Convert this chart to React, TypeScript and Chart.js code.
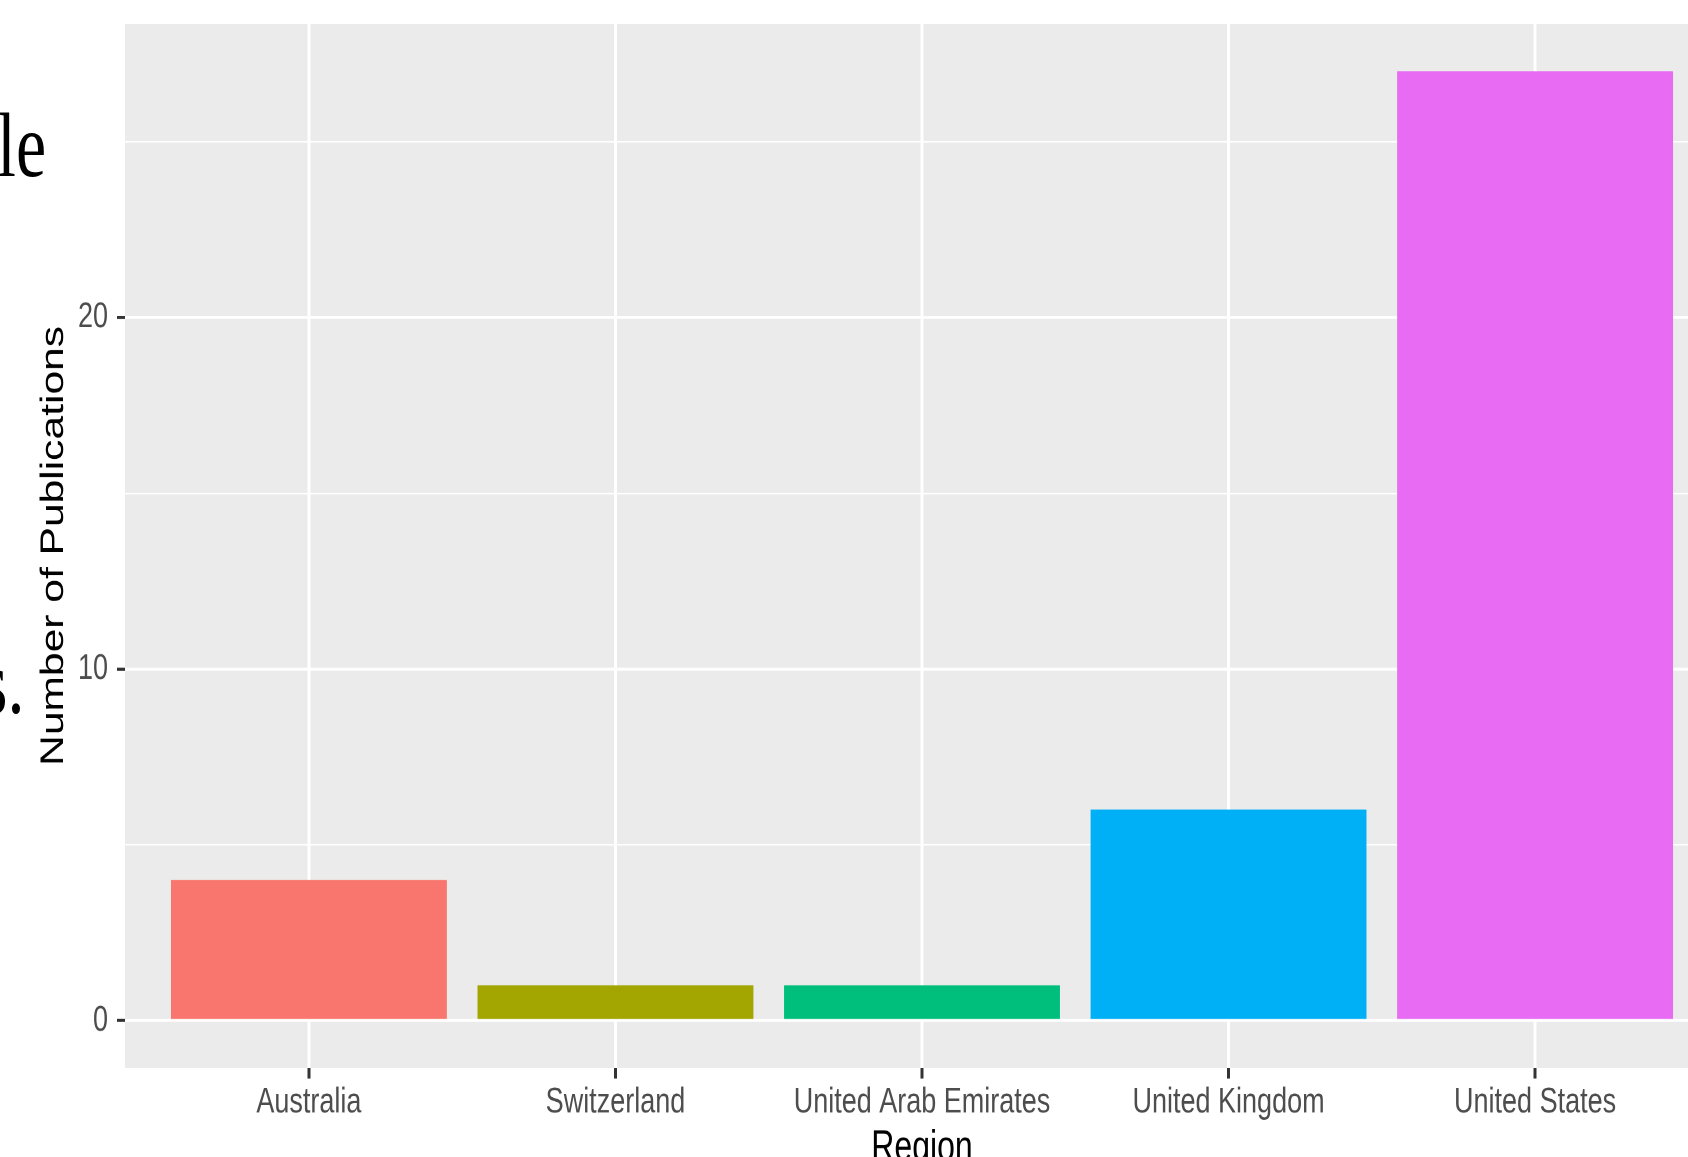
import React, { useEffect, useRef } from 'react';
import { Chart, registerables } from 'chart.js';

Chart.register(...registerables);

// ---- data ----
const categories = ['Australia', 'Switzerland', 'United Arab Emirates', 'United Kingdom', 'United States'];
const publications = [4, 1, 1, 6, 27];
const barColors = ['#F8766D', '#A3A500', '#00BF7D', '#00B0F6', '#E76BF3'];
const yTickLabels = [0, 10, 20];
const xTitle = 'Region';
const yTitle = 'Number of Publications';
const pageFragments = ['le', 's.'];

// the reference is vertically stretched
const STRETCH = 1157 / 870;

const panelBackground = {
  id: 'panelBackground',
  beforeDraw(chart: any) {
    const { ctx, chartArea } = chart;
    ctx.save();
    ctx.fillStyle = '#EBEBEB';
    ctx.fillRect(chartArea.left, chartArea.top, chartArea.right - chartArea.left, chartArea.bottom - chartArea.top);
    ctx.restore();
  },
};

export default function App() {
  const ref = useRef<HTMLCanvasElement>(null);

  useEffect(() => {
    document.documentElement.style.overflow = 'hidden';
    document.body.style.overflow = 'hidden';
    const tickFont = { family: '"Liberation Sans", Arial, sans-serif', size: 27 };
    const titleFont = { family: '"Liberation Sans", Arial, sans-serif', size: 32 };
    const chart = new Chart(ref.current as HTMLCanvasElement, {
      type: 'bar',
      data: {
        datasets: [
          {
            data: publications.map((v, i) => ({ x: i, y: v })) as any,
            backgroundColor: barColors,
            borderWidth: 0,
            barPercentage: 0.9,
            categoryPercentage: 1.0,
          },
        ],
      },
      plugins: [panelBackground],
      options: {
        responsive: false,
        animation: false,
        devicePixelRatio: 2,
        layout: { padding: { top: 18, right: 11, left: 0, bottom: 0 } },
        plugins: { legend: { display: false }, tooltip: { enabled: false } },
        scales: {
          x: {
            type: 'linear',
            min: -0.6,
            max: 4.6,
            offset: false,
            afterFit: (s: any) => {
              s.height = 97;
              s.paddingLeft = 0;
              s.paddingRight = 0;
            },
            ticks: {
              stepSize: 1,
              includeBounds: false,
              autoSkip: false,
              maxRotation: 0,
              minRotation: 0,
              padding: 2,
              color: '#4D4D4D',
              font: tickFont,
              callback: (v: any) => categories[v as number] ?? '',
            },
            grid: {
              offset: false,
              color: '#FFFFFF',
              lineWidth: 3,
              drawTicks: true,
              tickLength: 8,
              tickColor: '#333333',
              tickWidth: 3,
            },
            border: { display: false },
            title: {
              display: true,
              text: xTitle,
              color: '#000000',
              font: titleFont,
              padding: { top: 0, bottom: 17 },
            },
          },
          y: {
            type: 'linear',
            min: -1.35,
            max: 28.35,
            afterFit: (s: any) => {
              s.width = 125;
              s.paddingTop = 0;
              s.paddingBottom = 0;
            },
            ticks: {
              stepSize: 5,
              includeBounds: false,
              padding: 9,
              color: '#4D4D4D',
              font: tickFont,
              callback: (v: any) => (yTickLabels.includes(v as number) ? String(v) : ''),
            },
            grid: {
              color: '#FFFFFF',
              lineWidth: (ctx: any) => (ctx.tick && ctx.tick.value % 10 === 0 ? 2.4 : 1.2),
              drawTicks: true,
              tickLength: 8,
              tickColor: (ctx: any) => (ctx.tick && ctx.tick.value % 10 === 0 ? '#333333' : 'rgba(0,0,0,0)'),
              tickWidth: 2.4,
            },
            border: { display: false },
            title: {
              display: true,
              text: yTitle,
              color: '#000000',
              font: titleFont,
              padding: { top: 35, bottom: 0 },
            },
          },
        },
      } as any,
    });
    return () => chart.destroy();
  }, []);

  const serif: React.CSSProperties = {
    position: 'absolute',
    fontFamily: '"Liberation Serif", "Times New Roman", serif',
    fontSize: 68,
    lineHeight: 1,
    whiteSpace: 'nowrap',
    color: '#000',
  };

  return (
    <div
      style={{
        position: 'absolute',
        left: 0,
        top: 0,
        width: 1688,
        height: 870,
        overflow: 'hidden',
        background: '#FFFFFF',
        transform: `scaleY(${STRETCH})`,
        transformOrigin: '0 0',
      }}
    >
      <canvas
        ref={ref}
        width={1730}
        height={900}
        style={{ position: 'absolute', left: 0, top: 0, width: '1730px', height: '900px' }}
      />
      <div style={{ ...serif, left: -3, top: 75 }}>{pageFragments[0]}</div>
      <div style={{ ...serif, left: -19, top: 479 }}>{pageFragments[1]}</div>
    </div>
  );
}
